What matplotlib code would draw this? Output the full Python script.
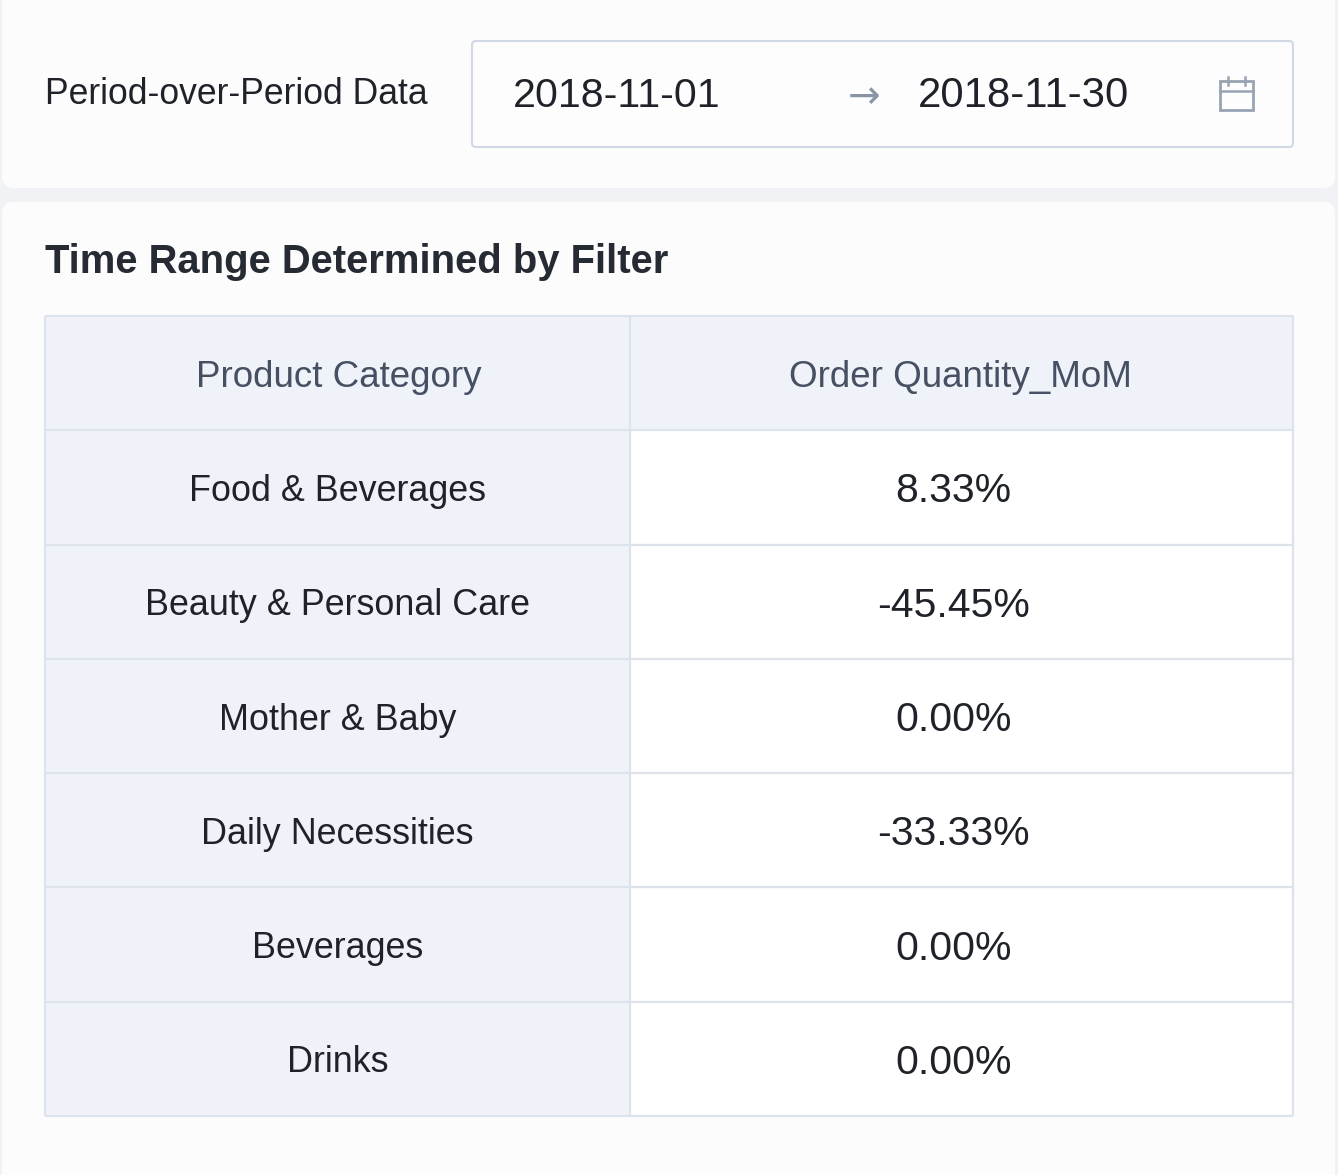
import matplotlib
matplotlib.use("Agg")
import matplotlib.pyplot as plt
from matplotlib.patches import FancyBboxPatch, Rectangle

plt.rcParams["font.family"] = ["Liberation Sans", "DejaVu Sans"]

# data
filter_label = "Period-over-Period Data"
date_start = "2018-11-01"
date_end = "2018-11-30"
title = "Time Range Determined by Filter"
headers = ["Product Category", "Order Quantity_MoM"]
categories = ["Food & Beverages", "Beauty & Personal Care", "Mother & Baby",
              "Daily Necessities", "Beverages", "Drinks"]
mom_values = [8.33, -45.45, 0.00, -33.33, 0.00, 0.00]

W, H = 1338, 1175
BG = "#f0f2f5"
CARD = "#fcfcfd"
HEAD_BG = "#eff3f9"
LINE = "#dde3ea"
DARK = "#1f2329"
GREY_TXT = "#465062"

fig = plt.figure(figsize=(W / 100, H / 100), dpi=100)
fig.patch.set_facecolor(BG)
ax = fig.add_axes([0, 0, 1, 1])
ax.set_xlim(0, W)
ax.set_ylim(H, 0)
ax.axis("off")

# cards
ax.add_patch(FancyBboxPatch((2, -20), 1333, 208, boxstyle="round,pad=0,rounding_size=12",
                            fc=CARD, ec="none"))
ax.add_patch(FancyBboxPatch((2, 202), 1333, 1000, boxstyle="round,pad=0,rounding_size=12",
                            fc=CARD, ec="none"))

# filter row
ax.text(45, 94, filter_label, fontsize=25.6, color=DARK, va="center", ha="left")
ax.add_patch(FancyBboxPatch((472, 41), 821, 106, boxstyle="round,pad=0,rounding_size=4",
                            fc="#fdfdfe", ec="#cfd8e3", lw=1.5))
ax.text(513, 96, date_start, fontsize=29.6, color=DARK, va="center", ha="left")
ax.text(864, 97, "\u2192", fontsize=28, color="#8a94a6", va="center", ha="center",
        family=["DejaVu Sans"])
ax.text(918, 96, date_end, fontsize=30.2, color=DARK, va="center", ha="left")

# calendar icon
ic = "#98a3b3"
ax.add_patch(Rectangle((1220, 81), 33, 29, fc="none", ec=ic, lw=2))
ax.plot([1220, 1253], [91, 91], color=ic, lw=1.8)
ax.plot([1228, 1228], [77, 85], color=ic, lw=1.8)
ax.plot([1245, 1245], [77, 85], color=ic, lw=1.8)

# title
ax.text(45, 262, title, fontsize=28.8, fontweight="bold", color="#262b33",
        va="center", ha="left")

# table
x0, x1, xdiv = 45, 1293, 630
y0 = 316
row_h = (1116 - 316) / (len(categories) + 1)
txt_dy = 4

ax.add_patch(Rectangle((x0, y0), x1 - x0, row_h, fc=HEAD_BG, ec="none"))
for i, cat in enumerate(categories):
    top = y0 + row_h * (i + 1)
    ax.add_patch(Rectangle((x0, top), xdiv - x0, row_h, fc=HEAD_BG, ec="none"))
    ax.add_patch(Rectangle((xdiv, top), x1 - xdiv, row_h, fc="white", ec="none"))

# grid lines
n_rows = len(categories) + 1
for r in range(n_rows + 1):
    y = y0 + row_h * r
    ax.plot([x0, x1], [y, y], color=LINE, lw=1.6, solid_capstyle="butt")
for x in (x0, xdiv, x1):
    ax.plot([x, x], [y0, y0 + row_h * n_rows], color=LINE, lw=1.6, solid_capstyle="butt")

left_c = (x0 + xdiv) / 2
right_c = (xdiv + x1) / 2 - 8
ax.text(left_c + 1, y0 + row_h / 2 + txt_dy, headers[0], fontsize=26.5, color=GREY_TXT,
        ha="center", va="center")
ax.text(right_c + 7, y0 + row_h / 2 + txt_dy, headers[1], fontsize=26.5, color=GREY_TXT,
        ha="center", va="center")

for i, (cat, val) in enumerate(zip(categories, mom_values)):
    cy = y0 + row_h * (i + 1.5) + txt_dy
    ax.text(left_c, cy, cat, fontsize=25.8, color=DARK, ha="center", va="center")
    ax.text(right_c, cy, f"{val:.2f}%", fontsize=29.5, color=DARK,
            ha="center", va="center")

fig.savefig("out.png", dpi=100, facecolor=fig.get_facecolor())
